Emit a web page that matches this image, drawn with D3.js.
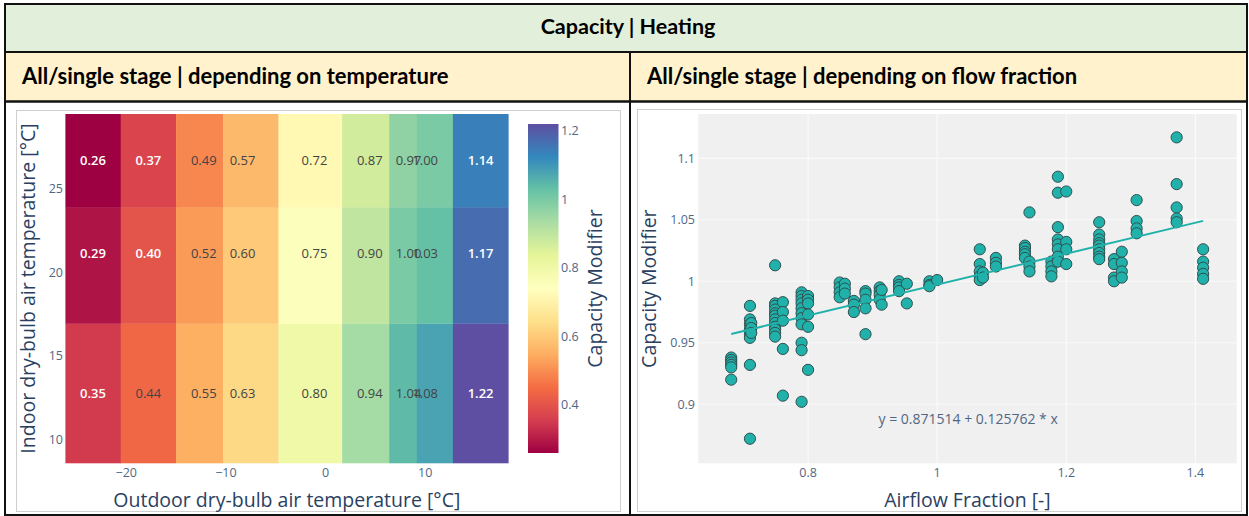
<!DOCTYPE html>
<html>
<head>
<meta charset="utf-8">
<script src="https://cdn.jsdelivr.net/npm/d3@7"></script>
<style>
  html, body { margin: 0; padding: 0; background: #fff; }
  svg { display: block; }
</style>
</head>
<body>
<svg id="chart" width="1249" height="516" font-family="'Open Sans', 'DejaVu Sans', sans-serif"></svg>
<script>
// ---- Heatmap data: capacity modifier vs outdoor / indoor dry-bulb temperature ----
const outdoorTemps = [-23.33, -17.78, -12.22, -8.33, -1.11, 4.44, 8.33, 10.0, 15.56];
const indoorTemps = [12.78, 21.11, 26.67];
const capacityGrid = [
  [0.35, 0.44, 0.55, 0.63, 0.80, 0.94, 1.04, 1.08, 1.22],
  [0.29, 0.40, 0.52, 0.60, 0.75, 0.90, 1.00, 1.03, 1.17],
  [0.26, 0.37, 0.49, 0.57, 0.72, 0.87, 0.97, 1.00, 1.14]
];
const heatXTicks = [-20, -10, 0, 10];
const heatYTicks = [10, 15, 20, 25];
const colorbarTicks = [0.4, 0.6, 0.8, 1, 1.2];

// ---- Scatter data: capacity modifier vs airflow fraction ----
const flowFraction = [
  0.681, 0.681, 0.681, 0.681, 0.681, 0.681,
  0.710, 0.710, 0.710, 0.710, 0.710, 0.710, 0.710, 0.710,
  0.712, 0.712, 0.712,
  0.749, 0.749, 0.749, 0.749, 0.749, 0.749, 0.749, 0.749, 0.749, 0.749, 0.749, 0.749,
  0.761, 0.761, 0.761, 0.761, 0.761,
  0.790, 0.790, 0.790, 0.790, 0.790, 0.790, 0.790, 0.790, 0.790, 0.790, 0.790,
  0.800, 0.800, 0.800, 0.800, 0.800, 0.800,
  0.849, 0.849, 0.849, 0.849,
  0.857, 0.857, 0.857,
  0.871, 0.871, 0.871,
  0.889, 0.889, 0.889, 0.889, 0.889,
  0.911, 0.911, 0.911, 0.911,
  0.914, 0.914,
  0.941, 0.941, 0.941, 0.941,
  0.953, 0.953,
  0.988, 0.988, 0.988,
  1.000,
  1.066, 1.066, 1.066, 1.066, 1.066,
  1.071, 1.071,
  1.091, 1.091, 1.091,
  1.136, 1.136, 1.136, 1.136, 1.136,
  1.143, 1.143, 1.143, 1.143,
  1.177, 1.177, 1.177, 1.177,
  1.187, 1.187, 1.187, 1.187, 1.187, 1.187, 1.187, 1.187,
  1.200, 1.200, 1.200, 1.200,
  1.251, 1.251, 1.251, 1.251, 1.251, 1.251, 1.251, 1.251, 1.251,
  1.274, 1.274, 1.274, 1.274,
  1.286, 1.286, 1.286, 1.286,
  1.309, 1.309, 1.309, 1.309,
  1.371, 1.371, 1.371, 1.371, 1.371,
  1.412, 1.412, 1.412, 1.412, 1.412
];
const capModifier = [
  0.938, 0.936, 0.934, 0.932, 0.930, 0.920,
  0.980, 0.969, 0.965, 0.961, 0.957, 0.954, 0.932, 0.872,
  0.966, 0.962, 0.958,
  1.013, 0.982, 0.980, 0.977, 0.974, 0.972, 0.969, 0.966, 0.963, 0.961, 0.958, 0.955,
  0.983, 0.975, 0.968, 0.945, 0.907,
  0.991, 0.988, 0.985, 0.982, 0.978, 0.974, 0.970, 0.965, 0.950, 0.944, 0.902,
  0.988, 0.985, 0.982, 0.973, 0.963, 0.928,
  0.999, 0.995, 0.991, 0.987,
  0.998, 0.994, 0.990,
  0.984, 0.981, 0.975,
  0.992, 0.990, 0.985, 0.978, 0.957,
  0.995, 0.992, 0.989, 0.985,
  0.993, 0.981,
  1.000, 0.997, 0.995, 0.992,
  0.998, 0.982,
  1.000, 0.997, 0.996,
  1.001,
  1.026, 1.014, 1.008, 1.004, 1.001,
  1.007, 1.003,
  1.019, 1.015, 1.012,
  1.029, 1.027, 1.024, 1.022, 1.019,
  1.056, 1.016, 1.012, 1.008,
  1.016, 1.012, 1.008, 1.004,
  1.085, 1.072, 1.044, 1.034, 1.030, 1.026, 1.020, 1.016,
  1.073, 1.032, 1.026, 1.014,
  1.048, 1.038, 1.034, 1.031, 1.029, 1.026, 1.023, 1.020, 1.018,
  1.018, 1.014, 1.003, 1.000,
  1.024, 1.015, 1.008, 1.003,
  1.066, 1.049, 1.043, 1.039,
  1.117, 1.079, 1.060, 1.051, 1.048,
  1.026, 1.016, 1.011, 1.006, 1.002
];
const fitIntercept = 0.871514;
const fitSlope = 0.125762;
const scatterXTicks = [0.8, 1, 1.2, 1.4];
const scatterYTicks = [0.9, 0.95, 1, 1.05, 1.1];

// Spectral colour stops (low = red, high = purple)
const spectralStops = ["rgb(158,1,66)", "rgb(213,62,79)", "rgb(244,109,67)", "rgb(253,174,97)",
  "rgb(254,224,139)", "rgb(255,255,191)", "rgb(230,245,152)", "rgb(171,221,164)",
  "rgb(102,194,165)", "rgb(50,136,189)", "rgb(94,79,162)"];

const svg = d3.select("#chart");
const fmtTick = d => d3.format("~g")(d).replace("-", "\u2212");
const HDR_FONT = "Lato, 'Open Sans', sans-serif";
const TICK_SIZE = 12.5, TITLE_SIZE = 19.5;
const TICK_COLOR = "#506784", TITLE_COLOR = "#2a3f5f";

// ---------- table frame ----------
svg.append("rect").attr("x", 0).attr("y", 0).attr("width", 1249).attr("height", 516).attr("fill", "#fff");
svg.append("rect").attr("x", 5).attr("y", 4).attr("width", 1242).attr("height", 48).attr("fill", "#E2EFDA");
svg.append("rect").attr("x", 5).attr("y", 52).attr("width", 1242).attr("height", 49).attr("fill", "#FFF2CC");
const frame = svg.append("g").attr("stroke", "#111").attr("stroke-width", 2).attr("fill", "none");
frame.append("rect").attr("x", 5).attr("y", 4).attr("width", 1242).attr("height", 511);
frame.append("line").attr("x1", 5).attr("x2", 1247).attr("y1", 52).attr("y2", 52);
frame.append("line").attr("x1", 5).attr("x2", 1247).attr("y1", 101.5).attr("y2", 101.5).attr("stroke-width", 2.5);
frame.append("line").attr("x1", 630).attr("x2", 630).attr("y1", 52).attr("y2", 515);

const hdr = svg.append("g").attr("font-family", HDR_FONT).attr("font-weight", 700).attr("fill", "#000");
hdr.append("text").attr("x", 628).attr("y", 34).attr("text-anchor", "middle")
  .attr("font-size", 21.5).text("Capacity | Heating");
hdr.append("text").attr("x", 22).attr("y", 84)
  .attr("font-size", 22).text("All/single stage | depending on temperature");
hdr.append("text").attr("x", 647).attr("y", 84)
  .attr("font-size", 22).text("All/single stage | depending on flow fraction");

// figure boxes
svg.append("rect").attr("x", 16.5).attr("y", 110.5).attr("width", 604).attr("height", 401)
  .attr("fill", "#fff").attr("stroke", "#cfcfcf");
svg.append("rect").attr("x", 637.5).attr("y", 109.5).attr("width", 604).attr("height", 402)
  .attr("fill", "#fff").attr("stroke", "#cfcfcf");

// ---------- heatmap ----------
function cellEdges(c) {
  const e = [c[0] - (c[1] - c[0]) / 2];
  for (let i = 1; i < c.length; i++) e.push((c[i - 1] + c[i]) / 2);
  e.push(c[c.length - 1] + (c[c.length - 1] - c[c.length - 2]) / 2);
  return e;
}
const xEdges = cellEdges(outdoorTemps);
const yEdges = cellEdges(indoorTemps);
const hx = d3.scaleLinear().domain([xEdges[0], xEdges[xEdges.length - 1]]).range([65.4, 508.3]);
const hy = d3.scaleLinear().domain([yEdges[0], yEdges[yEdges.length - 1]]).range([463, 114]);

const zMin = d3.min(capacityGrid.flat()), zMax = d3.max(capacityGrid.flat());
const interp = d3.piecewise(d3.interpolateRgb, spectralStops);
const color = d3.scaleSequential(interp).domain([zMin, zMax]);

function lum(c) {
  const r = d3.rgb(c);
  const f = v => { v /= 255; return v <= 0.03928 ? v / 12.92 : Math.pow((v + 0.055) / 1.055, 2.4); };
  return 0.2126 * f(r.r) + 0.7152 * f(r.g) + 0.0722 * f(r.b);
}

const cells = [];
capacityGrid.forEach((row, j) => row.forEach((v, i) => cells.push({ i, j, v })));
const hm = svg.append("g");
hm.selectAll("rect").data(cells).join("rect")
  .attr("x", d => hx(xEdges[d.i]))
  .attr("width", d => hx(xEdges[d.i + 1]) - hx(xEdges[d.i]) + 0.3)
  .attr("y", d => hy(yEdges[d.j + 1]))
  .attr("height", d => hy(yEdges[d.j]) - hy(yEdges[d.j + 1]) + 0.3)
  .attr("fill", d => color(d.v));
hm.selectAll("text").data(cells).join("text")
  .attr("x", d => hx(outdoorTemps[d.i]))
  .attr("y", d => hy(indoorTemps[d.j]))
  .attr("dy", "0.35em")
  .attr("text-anchor", "middle")
  .attr("font-size", 13)
  .attr("font-weight", d => lum(color(d.v)) < 0.26 ? 600 : 400)
  .attr("fill", d => lum(color(d.v)) < 0.26 ? "#fff" : "#444")
  .text(d => d3.format(".2f")(d.v));

// heatmap axes
svg.append("g").selectAll("text").data(heatXTicks).join("text")
  .attr("x", d => hx(d)).attr("y", 477).attr("text-anchor", "middle")
  .attr("font-size", TICK_SIZE).attr("fill", TICK_COLOR).text(fmtTick);
svg.append("g").selectAll("text").data(heatYTicks).join("text")
  .attr("x", 63).attr("y", d => hy(d)).attr("dy", "0.35em").attr("text-anchor", "end")
  .attr("font-size", TICK_SIZE).attr("fill", TICK_COLOR).text(fmtTick);
svg.append("text").attr("x", (hx.range()[0] + hx.range()[1]) / 2).attr("y", 507)
  .attr("text-anchor", "middle").attr("font-size", TITLE_SIZE).attr("fill", TITLE_COLOR)
  .text("Outdoor dry-bulb air temperature [°C]");
svg.append("text").attr("transform", `translate(35,${(hy.range()[0] + hy.range()[1]) / 2}) rotate(-90)`)
  .attr("text-anchor", "middle").attr("font-size", TITLE_SIZE).attr("fill", TITLE_COLOR)
  .text("Indoor dry-bulb air temperature [°C]");

// colorbar
const cb = d3.scaleLinear().domain([zMin, zMax]).range([453, 124]);
const grad = svg.append("defs").append("linearGradient").attr("id", "cbGrad")
  .attr("x1", 0).attr("y1", 1).attr("x2", 0).attr("y2", 0);
spectralStops.forEach((c, k) => grad.append("stop")
  .attr("offset", k / (spectralStops.length - 1)).attr("stop-color", c));
svg.append("rect").attr("x", 528).attr("y", cb.range()[1]).attr("width", 30.5)
  .attr("height", cb.range()[0] - cb.range()[1]).attr("fill", "url(#cbGrad)");
svg.append("g").selectAll("text").data(colorbarTicks).join("text")
  .attr("x", 561).attr("y", d => cb(d)).attr("dy", "0.35em")
  .attr("font-size", TICK_SIZE).attr("fill", TICK_COLOR).text(fmtTick);
svg.append("text").attr("transform", `translate(602,${(cb.range()[0] + cb.range()[1]) / 2}) rotate(-90)`)
  .attr("text-anchor", "middle").attr("font-size", TITLE_SIZE).attr("fill", TITLE_COLOR)
  .text("Capacity Modifier");

// ---------- scatter ----------
const sx = d3.scaleLinear().domain([0.630, 1.464]).range([698.3, 1236.7]);
const sy = d3.scaleLinear().domain([0.852, 1.136]).range([463.3, 114]);

svg.append("rect").attr("x", sx.range()[0]).attr("y", sy.range()[1])
  .attr("width", sx.range()[1] - sx.range()[0]).attr("height", sy.range()[0] - sy.range()[1])
  .attr("fill", "#f0f0f0");
const grid = svg.append("g").attr("stroke", "#fafafa").attr("stroke-width", 1.2);
grid.selectAll(".gx").data(scatterXTicks).join("line").attr("class", "gx")
  .attr("x1", d => sx(d)).attr("x2", d => sx(d)).attr("y1", sy.range()[1]).attr("y2", sy.range()[0]);
grid.selectAll(".gy").data(scatterYTicks).join("line").attr("class", "gy")
  .attr("y1", d => sy(d)).attr("y2", d => sy(d)).attr("x1", sx.range()[0]).attr("x2", sx.range()[1]);

svg.append("g").selectAll("text").data(scatterXTicks).join("text")
  .attr("x", d => sx(d)).attr("y", 477).attr("text-anchor", "middle")
  .attr("font-size", TICK_SIZE).attr("fill", TICK_COLOR).text(fmtTick);
svg.append("g").selectAll("text").data(scatterYTicks).join("text")
  .attr("x", 695).attr("y", d => sy(d)).attr("dy", "0.35em").attr("text-anchor", "end")
  .attr("font-size", TICK_SIZE).attr("fill", TICK_COLOR).text(fmtTick);
svg.append("text").attr("x", (sx.range()[0] + sx.range()[1]) / 2).attr("y", 507)
  .attr("text-anchor", "middle").attr("font-size", TITLE_SIZE).attr("fill", TITLE_COLOR)
  .text("Airflow Fraction [-]");
svg.append("text").attr("transform", `translate(656,${(sy.range()[0] + sy.range()[1]) / 2}) rotate(-90)`)
  .attr("text-anchor", "middle").attr("font-size", TITLE_SIZE).attr("fill", TITLE_COLOR)
  .text("Capacity Modifier");

const points = flowFraction.map((x, k) => ({ x, y: capModifier[k] }));
svg.append("g").selectAll("circle").data(points).join("circle")
  .attr("cx", d => sx(d.x)).attr("cy", d => sy(d.y)).attr("r", 5.6)
  .attr("fill", "#20b2aa").attr("stroke", "#2f4f4f").attr("stroke-width", 1);

const [fx0, fx1] = d3.extent(flowFraction);
svg.append("line")
  .attr("x1", sx(fx0)).attr("y1", sy(fitIntercept + fitSlope * fx0))
  .attr("x2", sx(fx1)).attr("y2", sy(fitIntercept + fitSlope * fx1))
  .attr("stroke", "#20b2aa").attr("stroke-width", 2);

svg.append("text").attr("x", sx(1.048)).attr("y", sy(0.8876)).attr("dy", "0.35em")
  .attr("text-anchor", "middle").attr("font-size", 14).attr("fill", TICK_COLOR)
  .text(`y = ${fitIntercept} + ${fitSlope} * x`);
</script>
</body>
</html>
